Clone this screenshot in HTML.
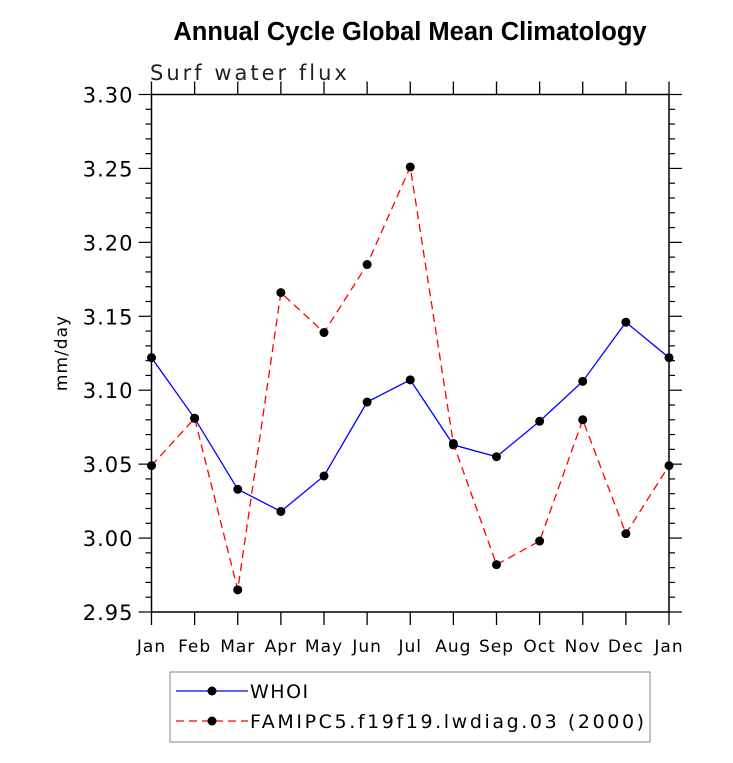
<!DOCTYPE html>
<html><head><meta charset="utf-8"><style>
body{margin:0;background:#fff;}
svg{display:block;font-family:"DejaVu Sans","Liberation Sans",sans-serif;}
</style></head><body>
<svg id="c" width="733" height="763">
<text x="410" y="40" text-anchor="middle" font-family="Liberation Sans" font-weight="bold" font-size="25.5">Annual Cycle Global Mean Climatology</text>
<text x="150" y="80" font-size="21" fill="#222" letter-spacing="3">Surf water flux</text>
<text transform="translate(67,353) rotate(-90)" text-anchor="middle" font-size="17" letter-spacing="1">mm/day</text>
<g id="axes"></g>
<g id="series"></g>
<rect x="170" y="672" width="480" height="70" fill="none" stroke="#999" stroke-width="1.2"/>
<g>
<line x1="176" y1="691" x2="248" y2="691" stroke="#0000ff" stroke-width="1.2"/>
<circle cx="212" cy="691" r="4.5" fill="#000"/>
<text x="250" y="698" font-size="19" letter-spacing="1.5">WHOI</text></g>
<g>
<line x1="176" y1="721" x2="248" y2="721" stroke="#ff0000" stroke-width="1.2" stroke-dasharray="8,5"/>
<circle cx="212" cy="721" r="4.5" fill="#000"/>
<text x="250" y="728" font-size="19" letter-spacing="2.6">FAMIPC5.f19f19.lwdiag.03 (2000)</text></g>
</svg>
<script>
const months=["Jan","Feb","Mar","Apr","May","Jun","Jul","Aug","Sep","Oct","Nov","Dec","Jan"];
const whoi=[3.122,3.081,3.033,3.018,3.042,3.092,3.107,3.063,3.055,3.079,3.106,3.146,3.122];
const fam=[3.049,3.081,2.965,3.166,3.139,3.185,3.251,3.064,2.982,2.998,3.080,3.003,3.049];
const yTicks=[2.95,3.00,3.05,3.10,3.15,3.20,3.25,3.30];
const L=151.5,R=669,T=94.5,B=612,ymin=2.95,ymax=3.30;
const xs=i=>L+(R-L)*i/(months.length-1);
const ys=v=>B-(B-T)*(v-ymin)/(ymax-ymin);
const NS="http://www.w3.org/2000/svg";
function mk(t,a,p){const e=document.createElementNS(NS,t);for(const k in a)e.setAttribute(k,a[k]);p.appendChild(e);return e;}
const ax=document.getElementById('axes'),se=document.getElementById('series');
const fr=mk('rect',{x:L,y:T,width:R-L,height:B-T,fill:'none',stroke:'#000','stroke-width':1.5},ax);


months.forEach((m,i)=>{const x=xs(i);
mk('line',{x1:x,y1:B,x2:x,y2:B+13,stroke:'#000','stroke-width':1.3},ax);
mk('line',{x1:x,y1:T,x2:x,y2:T-13,stroke:'#000','stroke-width':1.3},ax);
const t=mk('text',{x:x,y:B+40,'text-anchor':'middle','font-size':17,'letter-spacing':1},ax);t.textContent=m;

});
for(let v=ymin;v<=ymax+1e-9;v+=0.01){const y=ys(v);const maj=Math.abs(Math.round(v*100)%5)===0;
const len=maj?13:6;
mk('line',{x1:L-len,y1:y,x2:L,y2:y,stroke:'#000','stroke-width':1.2},ax);
mk('line',{x1:R,y1:y,x2:R+len,y2:y,stroke:'#000','stroke-width':1.2},ax);}
yTicks.forEach(v=>{const t=mk('text',{x:L-18,y:ys(v)+8,'text-anchor':'end','font-size':21,'letter-spacing':1},ax);t.textContent=v.toFixed(2);

});
function draw(d,col,dash,name){
const p=mk('polyline',{points:d.map((v,i)=>xs(i)+','+ys(v)).join(' '),fill:'none',stroke:col,'stroke-width':1.3,'stroke-dasharray':dash},se);


d.forEach((v,i)=>{const c=mk('circle',{cx:xs(i),cy:ys(v),r:4.5,fill:'#000'},se);

});}
draw(whoi,'#0000ff','none','whoi');
draw(fam,'#ff0000','8,5','famipc5');
</script>
</body></html>
